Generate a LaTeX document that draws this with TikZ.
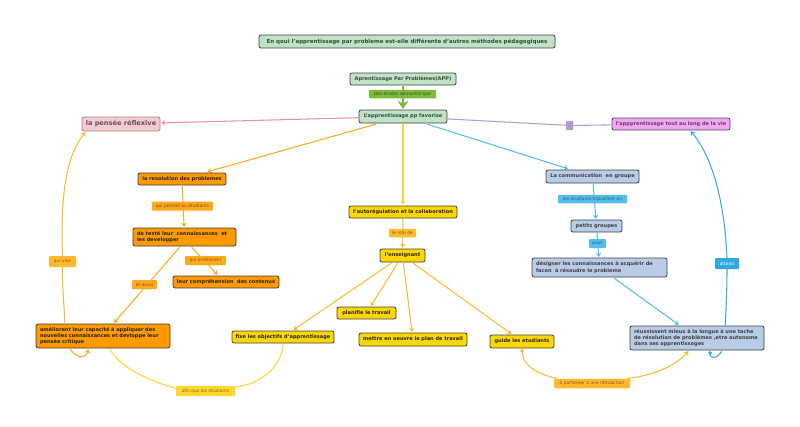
\documentclass[tikz,border=0pt]{standalone}
\usepackage{fontspec}
\setmainfont{DejaVu Sans}
\usetikzlibrary{arrows.meta,backgrounds}
\definecolor{cgreen}{HTML}{C2E2C8}
\definecolor{cgreentx}{HTML}{2F4F3A}
\definecolor{corange}{HTML}{FF9900}
\definecolor{cyellow}{HTML}{FFD700}
\definecolor{cblue}{HTML}{B8CCE8}
\definecolor{cpink}{HTML}{F8C8D0}
\definecolor{cpurple}{HTML}{F2A6F8}
\definecolor{lgreen}{HTML}{7CB93C}
\definecolor{lorange}{HTML}{FFA81E}
\definecolor{lyel}{HTML}{FFD52E}
\definecolor{lamber}{HTML}{FFB92E}
\definecolor{lblue}{HTML}{55BCEE}
\definecolor{ldblue}{HTML}{30A8E0}
\definecolor{lpink}{HTML}{F08CB4}
\definecolor{lpurple}{HTML}{B89AD0}
\tikzset{
 x=1pt,y=-1pt,
 box/.style={draw=#1,line width=0.8pt,rounded corners=2pt,inner sep=0pt,outer sep=1.2pt,font=\fontsize{5.05}{6.1}\selectfont\bfseries},
 box/.default={black!75},
 gbox/.style={box,fill=cgreen,text=cgreentx},
 obox/.style={box,fill=corange,text=black!85},
 ybox/.style={box,fill=cyellow,text=black!85},
 bbox/.style={box,fill=cblue,text=black!75},
 lab/.style={rounded corners=1pt,inner sep=0pt,font=\fontsize{4.4}{5}\selectfont,minimum height=9pt},
 conn/.style={line width=1.05pt,-{Stealth[length=4pt,width=5.5pt]}},
 plain/.style={line width=1.05pt},
}
\begin{document}
\begin{tikzpicture}
\useasboundingbox (0,0) rectangle (800,426);
% boxes
\node[gbox,minimum width=296pt,minimum height=13pt,font=\fontsize{5.5}{6.4}\selectfont\bfseries] (title) at (407,41.5) {En qoui l'apprentissage par probleme est-elle différente d'autres méthodes pédagogiques};
\node[gbox,minimum width=106pt,minimum height=12pt] (app) at (403,79) {Aprentissage Par Problèmes(APP)};
\node[gbox,minimum width=88pt,minimum height=13pt] (fav) at (403,116.5) {L'apprentissage pp favorise};
\node[box=black!45,fill=cpink,text=black!65,minimum width=78pt,minimum height=14pt,font=\fontsize{6.6}{8}\selectfont\bfseries] (pens) at (121,124) {la pensée réflexive};
\node[box=black!70,fill=cpurple,text=black!70!magenta,minimum width=118pt,minimum height=12pt] (life) at (671,124) {l'appprentissage tout au long de la vie};
\node[fill=lpurple,rounded corners=0.5pt,minimum width=7pt,minimum height=9pt,inner sep=0pt,outer sep=0pt] (sq) at (569.5,125.5) {};
\node[obox,minimum width=88pt,minimum height=12pt] (res) at (182,179) {la resolution des problemes};
\node[obox,minimum width=103pt,minimum height=18pt,text width=95pt,align=left] (test) at (184.5,237) {de testé leur~ connaissances~ et\\ les developper};
\node[obox,minimum width=106pt,minimum height=12pt] (compr) at (226,282) {leur compréhension~ des contenus};
\node[obox,minimum width=134pt,minimum height=24pt,text width=126pt,align=left] (amel) at (103,336) {améliorent leur capacité à appliquer des\\ nouvelles connaissances et devloppe leur\\ pensée critique};
\node[ybox,minimum width=102pt,minimum height=12pt] (fixe) at (283,337) {fixe les objectifs d'apprentissage};
\node[ybox,minimum width=108pt,minimum height=12pt] (auto) at (403,212) {l'autorégulation et la collaboration};
\node[ybox,minimum width=45pt,minimum height=13pt] (ens) at (402.5,255.5) {l'enseignant};
\node[ybox,minimum width=59pt,minimum height=12pt] (plan) at (366.5,313) {planifie le travail};
\node[ybox,minimum width=108pt,minimum height=13pt] (mett) at (413,339.5) {mettre en oeuvre le plan de travail};
\node[ybox,minimum width=64pt,minimum height=13pt] (guide) at (522,341.5) {guide les etudiants};
\node[bbox,minimum width=93pt,minimum height=13pt] (comm) at (592.5,176.5) {La communication~ en groupe};
\node[bbox,minimum width=51pt,minimum height=12pt] (pet) at (596.5,226) {petits groupes};
\node[bbox,minimum width=135pt,minimum height=19pt,text width=127pt,align=left] (des) at (599.5,267.5) {désigner les connaissances à acquérir de\\ facon~ à résoudre le probleme};
\node[bbox,minimum width=134pt,minimum height=24pt,text width=126pt,align=left] (reu) at (697,338) {réussissent mieux à la longue à une tache\\ de résolution de problèmes ,etre autonome\\ dans ses apprentissages};
% labels
\node[lab,fill=lgreen,text=black!55!lgreen,minimum width=67pt,minimum height=8.5pt] (l1) at (402.5,94) {Des études démontre que};
\node[lab,fill=lorange,text=black!50!lorange,minimum width=61pt] (l2) at (182.5,206) {qui permet au étudiants};
\node[lab,fill=lamber,text=black!50!lamber,minimum width=27pt,minimum height=11pt] (l3) at (62.5,261.5) {qui vise};
\node[lab,fill=lorange,text=black!50!lorange,minimum width=41pt] (l4) at (205.5,260.5) {qui améliorent};
\node[lab,fill=lorange,text=black!50!lorange,minimum width=25pt] (l5) at (144.5,284.5) {et aussi};
\node[lab,fill=lyel,text=black!50!lyel,minimum width=59pt,minimum height=10pt] (l6) at (205.5,391) {afin que les etudiants};
\node[lab,fill=lamber,text=black!50!lamber,minimum width=27pt,minimum height=8.5pt] (l7) at (402.5,233) {le role de};
\node[lab,fill=lblue,text=black!50!lblue,minimum width=69pt,minimum height=8.5pt] (l8) at (592.5,199) {les etudiants travaillent en};
\node[lab,fill=lblue,text=black!50!lblue,minimum width=17pt] (l9) at (597.5,243.5) {pour};
\node[lab,fill=ldblue,text=white,minimum width=24pt,minimum height=11pt] (l10) at (727,263.5) {atteint};
\node[lab,fill=lamber,text=black!50!lamber,minimum width=76pt,minimum height=9.5pt] (l11) at (592,383.5) {à participer à une rétroaction};
% connectors
\begin{pgfonlayer}{background}
\draw[line width=2pt,lgreen,-{Stealth[length=8pt,width=11pt]}] (app) -- (fav);
\draw[conn,lpink] (fav) -- (pens);
\draw[plain,lpurple] (fav) -- (sq);
\draw[plain,lpurple] (sq) -- (life);
\draw[conn,lorange] (fav) -- (res);
\draw[conn,lyel] (fav) -- (auto);
\draw[conn,lblue] (fav) -- (comm);
\draw[conn,lorange] (res) -- (test);
\draw[conn,lorange] (test.-115) -- (amel.50);
\draw[conn,lorange] (test.-55) -- (compr.140);
\draw[conn,lamber] (auto) -- (ens);
\draw[conn,lamber] (ens) -- (fixe);
\draw[conn,lamber] (ens) -- (plan);
\draw[conn,lamber] (ens) -- (mett);
\draw[conn,lamber] (ens) -- (guide);
\draw[conn,lblue] (comm) -- (pet);
\draw[conn,lblue] (pet) -- (des);
\draw[conn,lblue] (des) -- (reu);
\draw[plain,lamber] (amel.161.6) .. controls (64,300) and (62,285) .. (l3.south);
\draw[conn,lamber] (l3.north) .. controls (61,215) and (62,160) .. (pens.193);
\draw[conn,lorange] (amel.202.5) .. controls (78,360) and (86,358) .. (amel.222.7);
\draw[plain,lyel] (amel.-62) .. controls (120,368) and (150,381) .. (l6.175);
\draw[plain,lyel] (fixe.south) .. controls (282,368) and (258,385) .. (l6.8);
\draw[plain,ldblue!80!lblue] (reu.25) .. controls (726,310) and (727,290) .. (l10.south);
\draw[conn,ldblue!80!lblue] (l10.north) .. controls (725,210) and (715,160) .. (life.-20);
\draw[ldblue,line width=1.05pt,-{Circle[length=3.5pt]}] (reu.-28.6) .. controls (717,359) and (710,359) .. (reu.-45);
\draw[plain,lamber,{Circle[length=3.5pt]}-] (guide.south) .. controls (523,365) and (535,373) .. (l11.172);
\draw[conn,lamber] (l11.8) .. controls (655,375) and (675,366) .. (reu.237);
\end{pgfonlayer}
\end{tikzpicture}
\end{document}
